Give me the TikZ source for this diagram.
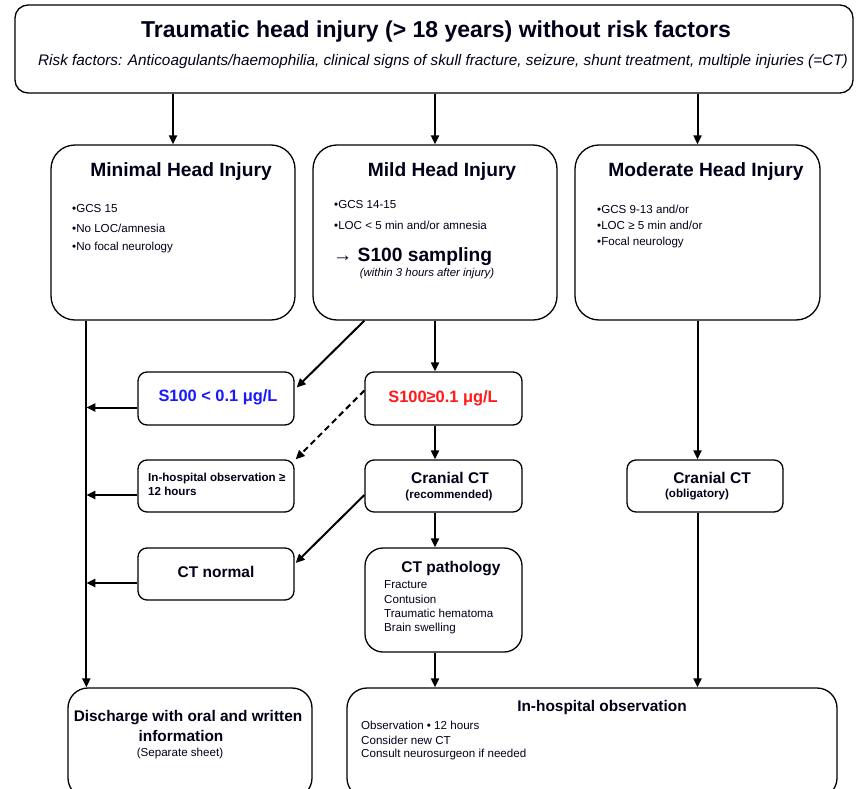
\documentclass[tikz,border=0pt]{standalone}
\usepackage{fontspec}
\setmainfont{Liberation Sans}
\usetikzlibrary{arrows.meta,calc}
\tikzset{
  bigbox/.style={draw, line width=1.3pt, rounded corners=24pt, inner sep=0pt},
  smallbox/.style={draw, line width=1.3pt, rounded corners=9pt, inner sep=0pt},
  topbox/.style={draw, line width=1.3pt, rounded corners=13pt, inner sep=0pt},
  arr/.style={line width=2pt, -{Triangle[length=9pt,width=8pt]}},
  darr/.style={arr, dash pattern=on 6pt off 4pt},
  txt/.style={inner sep=0pt, text=black!90!blue},
  f20b/.style={txt, font=\fontsize{23}{27}\selectfont\bfseries},
  f18b/.style={txt, font=\fontsize{19.2}{23}\selectfont\bfseries},
  f15b/.style={txt, font=\fontsize{15.5}{18}\selectfont\bfseries},
  f16b/.style={txt, font=\fontsize{16.4}{19}\selectfont\bfseries},
  f14b/.style={txt, font=\fontsize{15.4}{18}\selectfont\bfseries},
  f11/.style={txt, font=\fontsize{11.6}{14}\selectfont},
  f11b/.style={txt, font=\fontsize{11.6}{14}\selectfont\bfseries},
  f11i/.style={txt, font=\fontsize{11.4}{14}\selectfont\itshape},
  f13i/.style={txt, font=\fontsize{15.3}{18}\selectfont\itshape},
}
\begin{document}
\begin{tikzpicture}[x=1pt,y=-1pt]
\clip (0,0) rectangle (856,789);
\fill[white] (0,0) rectangle (856,789);

% boxes
\node[topbox, minimum width=838pt, minimum height=88pt] (top) at (434,49) {};
\node[bigbox, minimum width=244pt, minimum height=175pt] (minimal) at (173,232.5) {};
\node[bigbox, minimum width=244pt, minimum height=175pt] (mild) at (435,232.5) {};
\node[bigbox, minimum width=245pt, minimum height=175pt] (moderate) at (697.5,232.5) {};
\node[smallbox, minimum width=156pt, minimum height=53pt] (slow) at (216,398.5) {};
\node[smallbox, minimum width=157pt, minimum height=53pt] (shigh) at (443.5,398.5) {};
\node[smallbox, minimum width=156pt, minimum height=52pt] (obs12) at (216,486) {};
\node[smallbox, minimum width=157pt, minimum height=52pt] (ctrec) at (443.5,486) {};
\node[smallbox, minimum width=156pt, minimum height=52pt] (ctobl) at (705,486) {};
\node[smallbox, minimum width=156pt, minimum height=52pt] (ctnorm) at (216,574) {};
\node[smallbox, rounded corners=18pt, minimum width=157pt, minimum height=104pt] (ctpath) at (443.5,600) {};
\node[bigbox, rounded corners=20pt, minimum width=244pt, minimum height=110pt] (disch) at (190,743) {};
\node[bigbox, rounded corners=20pt, minimum width=490pt, minimum height=110pt] (hosp) at (592,743) {};

% texts
\node[f20b] (t1) at (436,32) {Traumatic head injury (> 18 years) without risk factors};
\node[f13i] (t2) at (443,62) {Risk factors: Anticoagulants/haemophilia, clinical signs of skull fracture, seizure, shunt treatment, multiple injuries (=CT)};

\node[f18b] (minT) at (181,172) {Minimal Head Injury};
\node[f11, anchor=west] (min1) at (72,209) {•GCS 15};
\node[f11, anchor=west] (min2) at (72,228) {•No LOC/amnesia};
\node[f11, anchor=west] (min3) at (72,247) {•No focal neurology};

\node[f18b] (midT) at (442,172) {Mild Head Injury};
\node[f11, anchor=west] (mid1) at (334,205) {•GCS 14-15};
\node[f11, anchor=west] (mid2) at (334,225) {•LOC < 5 min and/or amnesia};
\node[f18b, anchor=west] (mid3) at (333,257) {→ S100 sampling};
\node[f11i] (mid4) at (427,274) {(within 3 hours after injury)};

\node[f18b] (modT) at (706,172) {Moderate Head Injury};
\node[f11, anchor=west] (mod1) at (597,209) {•GCS 9-13 and/or};
\node[f11, anchor=west] (mod2) at (597,225) {•LOC ≥ 5 min and/or};
\node[f11, anchor=west] (mod3) at (597,242) {•Focal neurology};

\node[f16b, text=blue!90!white] (slowT) at (218,397) {S100 < 0.1 μg/L};
\node[f16b, text=red!90!white] (shighT) at (443,398) {S100≥0.1 μg/L};

\node[f11b, anchor=west, align=left] (obsT) at (148,484) {In-hospital observation ≥\\12 hours};

\node[f15b] (ctrecT) at (450,478) {Cranial CT};
\node[f11b] (ctrecS) at (449,495) {(recommended)};
\node[f15b] (ctoblT) at (712,478) {Cranial CT};
\node[f11b] (ctoblS) at (697,495) {(obligatory)};

\node[f15b] (ctnormT) at (216,572) {CT normal};

\node[f15b] (ctpathT) at (451,569) {CT pathology};
\node[f11, anchor=west] (cp1) at (384,585) {Fracture};
\node[f11, anchor=west] (cp2) at (384,599) {Contusion};
\node[f11, anchor=west] (cp3) at (384,613) {Traumatic hematoma};
\node[f11, anchor=west] (cp4) at (384,628) {Brain swelling};

\node[f14b] (dT1) at (188,718) {Discharge with oral and written};
\node[f14b] (dT2) at (181,736) {information};
\node[f11] (dT3) at (180,753) {(Separate sheet)};

\node[f14b] (hT) at (602,708) {In-hospital observation};
\node[f11, anchor=west] (h1) at (361,725) {Observation • 12 hours};
\node[f11, anchor=west] (h2) at (361,740) {Consider new CT};
\node[f11, anchor=west] (h3) at (361,754) {Consult neurosurgeon if needed};

% connectors from top
\draw[arr] (top.south -| minimal.north) -- (minimal.north);
\draw[arr] (top.south -| mild.north) -- (mild.north);
\draw[arr] (top.south -| moderate.north) -- (moderate.north);

% left trunk
\coordinate (vtop) at ($(minimal.south west)+(36,0)$);
\coordinate (vbot) at (vtop |- disch.north);
\draw[arr] (vtop) -- (vbot);

\coordinate (p1) at ($(slow.west)+(0,9)$);
\coordinate (p2) at ($(obs12.west)+(0,9)$);
\coordinate (p3) at ($(ctnorm.west)+(0,9)$);
\draw[arr] (p1) -- (vtop |- p1);
\draw[arr] (p2) -- (vtop |- p2);
\draw[arr] (p3) -- (vtop |- p3);

% mild branch
\draw[arr] ($(mild.south west)+(52,0)$) -- ($(slow.east)+(2,-11)$);
\draw[arr] (mild.south) -- (mild.south |- shigh.north);
\draw[darr] ($(shigh.west)+(0,-8)$) -- ($(obs12.north east)+(1,0)$);
\draw[arr] (shigh.south -| mild.south) -- (ctrec.north -| mild.south);
\draw[arr] ($(ctrec.west)+(0,9)$) -- ($(ctnorm.east)+(1,-11)$);
\draw[arr] (ctrec.south -| mild.south) -- (ctpath.north -| mild.south);
\draw[arr] (ctpath.south -| mild.south) -- (hosp.north -| mild.south);

% moderate branch
\draw[arr] (moderate.south) -- (moderate.south |- ctobl.north);
\draw[arr] (moderate.south |- ctobl.south) -- (moderate.south |- hosp.north);
\end{tikzpicture}
\end{document}
